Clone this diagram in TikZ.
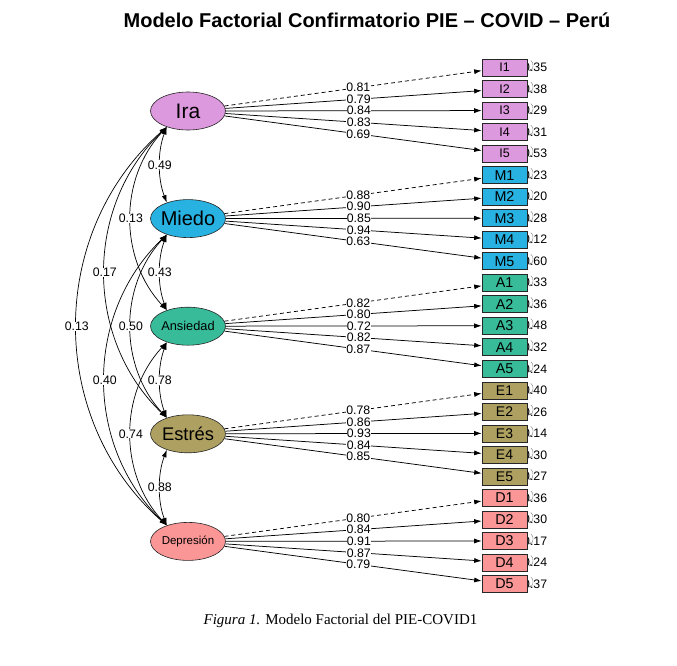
\documentclass[tikz,border=0pt]{standalone}
\usepackage{fontspec}
\setmainfont{Liberation Sans}
\newfontfamily\capfont{Liberation Serif}
\usetikzlibrary{arrows.meta,shapes.geometric,calc}
\definecolor{cIra}{RGB}{221,153,221}
\definecolor{cMie}{RGB}{40,178,226}
\definecolor{cAns}{RGB}{55,187,153}
\definecolor{cEst}{RGB}{173,160,97}
\definecolor{cDep}{RGB}{250,150,150}
\begin{document}
\begin{tikzpicture}[x=1pt,y=-1pt,
  fac/.style={ellipse, draw=black!85, line width=0.6pt, minimum width=75pt, minimum height=38pt, inner sep=0pt},
  ind/.style={rectangle, draw=black!85, line width=0.6pt, minimum width=45pt, minimum height=17pt, inner sep=0pt},
  load/.style={-{Latex[length=7.5pt,width=5pt]}, line width=0.75pt},
  cov/.style={{Latex[length=7.5pt,width=5pt]}-{Latex[length=7.5pt,width=5pt]}, line width=0.7pt},
  lab/.style={fill=white, inner sep=0.3pt, font=\fontsize{12.3}{12}\selectfont},
  reslab/.style={anchor=west, inner sep=0pt, font=\fontsize{12.3}{12}\selectfont},
  resarr/.style={-{Latex[length=2.5pt,width=2pt]}, line width=0.35pt, black!55}
]
\useasboundingbox (0,0) rectangle (677,665);

% title and caption
\node[font=\bfseries\fontsize{20}{22}\selectfont] (title) at (367,20) {Modelo Factorial Confirmatorio PIE – COVID – Perú};
\node[font=\capfont\fontsize{15}{17}\selectfont] (cap) at (340.5,621) {\textit{Figura 1.} Modelo Factorial del PIE-COVID1};

% factors
\node[fac, fill=cIra] (ira) at (188,111) {\makebox[0pt]{\fontsize{21}{21}\selectfont Ira}};
\node[fac, fill=cMie] (mie) at (188,218.6) {\makebox[0pt]{\fontsize{20}{20}\selectfont Miedo}};
\node[fac, fill=cAns] (ans) at (188,326.2) {\makebox[0pt]{\fontsize{12.8}{13}\selectfont Ansiedad}};
\node[fac, fill=cEst] (est) at (188,433.8) {\makebox[0pt]{\fontsize{18.3}{19}\selectfont Estrés}};
\node[fac, fill=cDep] (dep) at (188,541.4) {\makebox[0pt]{\fontsize{11.5}{12}\selectfont Depresión}};

% indicators, residuals
\foreach \n/\f/\c/\t/\l/\r/\fs [count=\k from 0] in {
 i1/ira/cIra/I1/0.81/0.35/12.5, i2/ira/cIra/I2/0.79/0.38/12.5, i3/ira/cIra/I3/0.84/0.29/12.5, i4/ira/cIra/I4/0.83/0.31/12.5, i5/ira/cIra/I5/0.69/0.53/12.5,
 m1/mie/cMie/M1/0.88/0.23/14.3, m2/mie/cMie/M2/0.90/0.20/14.3, m3/mie/cMie/M3/0.85/0.28/14.3, m4/mie/cMie/M4/0.94/0.12/14.3, m5/mie/cMie/M5/0.63/0.60/14.3,
 a1/ans/cAns/A1/0.82/0.33/14.3, a2/ans/cAns/A2/0.80/0.36/14.3, a3/ans/cAns/A3/0.72/0.48/14.3, a4/ans/cAns/A4/0.82/0.32/14.3, a5/ans/cAns/A5/0.87/0.24/14.3,
 e1/est/cEst/E1/0.78/0.40/14, e2/est/cEst/E2/0.86/0.26/14, e3/est/cEst/E3/0.93/0.14/14, e4/est/cEst/E4/0.84/0.30/14, e5/est/cEst/E5/0.85/0.27/14,
 d1/dep/cDep/D1/0.80/0.36/14.3, d2/dep/cDep/D2/0.84/0.30/14.3, d3/dep/cDep/D3/0.91/0.17/14.3, d4/dep/cDep/D4/0.87/0.24/14.3, d5/dep/cDep/D5/0.79/0.37/14.3}
{
  \pgfmathsetmacro\yy{67.5+21.52*\k}
  \pgfmathtruncatemacro\m{mod(\k,5)}
  \node[reslab] (r\n) at (523,\yy) {\r};
  \node[ind, fill=\c, font=\fontsize{\fs}{\fs}\selectfont] (\n) at (504.5,\yy) {\t};
  \draw[resarr] ($(\n.east)+(3.5,-7)$) .. controls ($(\n.east)+(7,-5)$) and ($(\n.east)+(6,2)$) .. ($(\n.east)+(1.2,3)$);
  \ifnum\m=0
    \draw[load,dashed,dash pattern=on 4pt off 3pt] (\f) -- (\n);
  \else
    \draw[load] (\f) -- (\n);
  \fi
}
\foreach \n/\f/\l in {
 i1/ira/0.81, i2/ira/0.79, i3/ira/0.84, i4/ira/0.83, i5/ira/0.69,
 m1/mie/0.88, m2/mie/0.90, m3/mie/0.85, m4/mie/0.94, m5/mie/0.63,
 a1/ans/0.82, a2/ans/0.80, a3/ans/0.72, a4/ans/0.82, a5/ans/0.87,
 e1/est/0.78, e2/est/0.86, e3/est/0.93, e4/est/0.84, e5/est/0.85,
 d1/dep/0.80, d2/dep/0.84, d3/dep/0.91, d4/dep/0.87, d5/dep/0.79}
{
  \path (\f) -- node[lab,pos=0.52]{\l} (\n);
}

% covariances
\foreach \a/\b/\d/\h/\l in {
 ira/mie/9.3/24.5/0.49, mie/ans/9.3/24.5/0.43, ans/est/9.3/24.5/0.78, est/dep/9.3/24.5/0.88,
 ira/ans/47.9/51.6/0.13, mie/est/47.9/51.6/0.50, ans/dep/47.9/51.6/0.74,
 ira/est/82.7/79.4/0.17, mie/dep/82.7/79.4/0.40,
 ira/dep/120/105.8/0.13}
{
  \draw[cov] (\a.217) .. controls +(-\d,\h) and +(-\d,-\h) .. (\b.143);
}
\foreach \a/\b/\d/\h/\l in {
 ira/mie/9.3/24.5/0.49, mie/ans/9.3/24.5/0.43, ans/est/9.3/24.5/0.78, est/dep/9.3/24.5/0.88,
 ira/ans/47.9/51.6/0.13, mie/est/47.9/51.6/0.50, ans/dep/47.9/51.6/0.74,
 ira/est/82.7/79.4/0.17, mie/dep/82.7/79.4/0.40,
 ira/dep/120/105.8/0.13}
{
  \path (\a.217) .. controls +(-\d,\h) and +(-\d,-\h) .. node[lab,pos=0.5]{\l} (\b.143);
}
\end{tikzpicture}
\end{document}
